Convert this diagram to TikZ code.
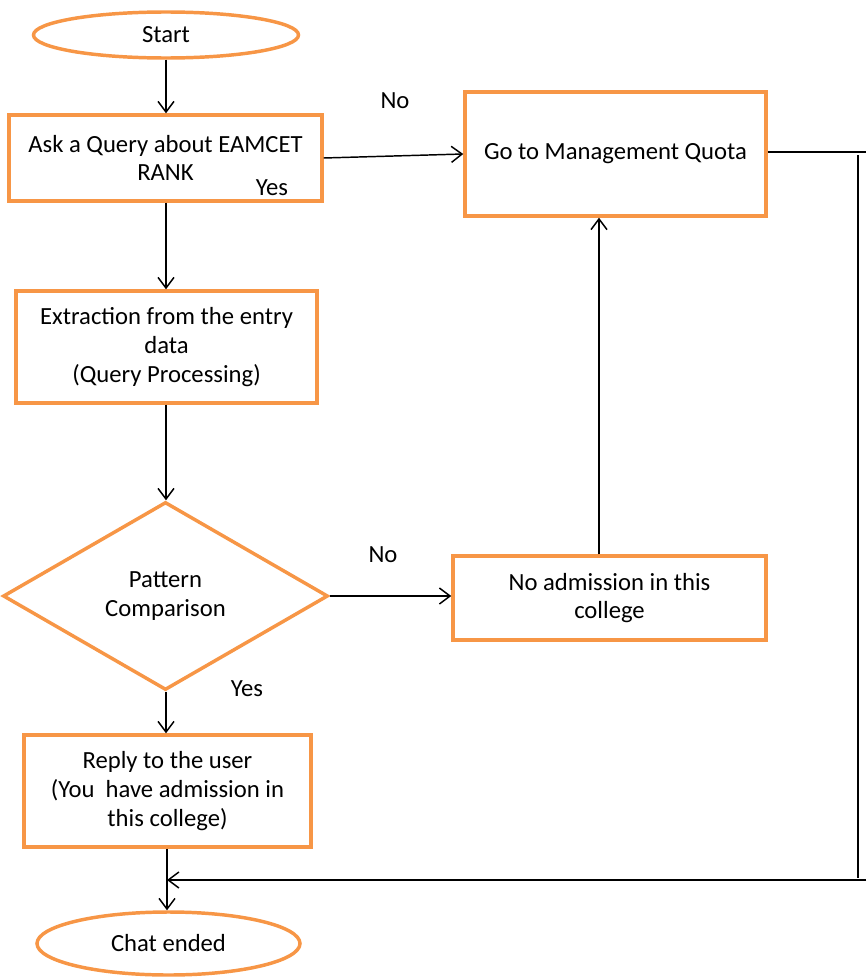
\documentclass[tikz,border=0pt]{standalone}
\usepackage{fontspec}
\setmainfont{Carlito}
\usetikzlibrary{shapes.geometric,arrows.meta}
\definecolor{acc}{HTML}{F79646}
\begin{document}
\begin{tikzpicture}[x=0.75pt,y=-0.75pt,
  every node/.style={font=\fontsize{18.5pt}{21.5pt}\selectfont},
  box/.style={draw=acc,line width=2.6pt,rectangle,align=center,inner sep=0pt,fill=white},
  term/.style={draw=acc,line width=2.6pt,ellipse,inner sep=0pt,fill=white},
  dec/.style={draw=acc,line width=2.6pt,diamond,aspect=1.7,inner sep=0pt,align=center,fill=white},
  conn/.style={draw=black,line width=1.1pt},
  arr/.style={conn,-{Straight Barb[length=8pt,width=12pt,line width=1.1pt]}},
  lbl/.style={inner sep=0pt}]
\useasboundingbox (0,0) rectangle (867,978);
\node[term,minimum width=198.75pt,minimum height=34.5pt] (start) at (166,35) {Start};
\node[box,minimum width=234.75pt,minimum height=64.5pt] (b1) at (165.5,158) {Ask a Query about EAMCET\\RANK};
\node[box,minimum width=225.75pt,minimum height=93pt] (b2) at (615.5,154) {Go to Management Quota};
\node[box,minimum width=225.75pt,minimum height=84pt] (b3) at (166.5,347) {Extraction from the entry\\data\\(Query Processing)};
\node[dec,minimum width=243.75pt,minimum height=141pt] (d) at (165.5,596) {Pattern\\Comparison};
\node[box,minimum width=234.75pt,minimum height=63pt] (b4) at (609.5,598) {No admission in this\\college};
\node[box,minimum width=215.25pt,minimum height=84pt] (b5) at (167.5,791) {Reply to the user\\(You\ \ have admission in\\this college)};
\node[term,minimum width=197.25pt,minimum height=47.25pt] (end) at (168.5,943.5) {Chat ended};

\node[lbl] (yes1) at (272,188) {Yes};
\node[lbl] (no1) at (395,101) {No};
\node[lbl] (no2) at (383,555) {No};
\node[lbl] (yes2) at (247,689) {Yes};

\coordinate (colx) at (599,0);
\coordinate (r1) at (866,152);
\coordinate (r2) at (858,155);
\coordinate (r3) at (858,878);
\coordinate (r4) at (866,880);
\coordinate (m) at (167,880);

\draw[arr] (start.south) -- (b1.north -| start.south);
\draw[arr] (b1.east) -- (b2.west);
\draw[arr] (b1.south -| start.south) -- (b3.north -| start.south);
\draw[arr] (b3.south -| start.south) -- (d.north -| start.south);
\draw[arr] (d.east) -- (b4.west |- d.east);
\draw[arr] (b4.north -| colx) -- (b2.south -| colx);
\draw[arr] (d.south -| start.south) -- (b5.north -| start.south);
\draw[arr] (b5.south -| m) -- (end.north -| m);
\draw[conn] (b2.east |- r1) -- (r1);
\draw[conn] (r2) -- (r3);
\draw[arr] (r4) -- (m);
\end{tikzpicture}
\end{document}
